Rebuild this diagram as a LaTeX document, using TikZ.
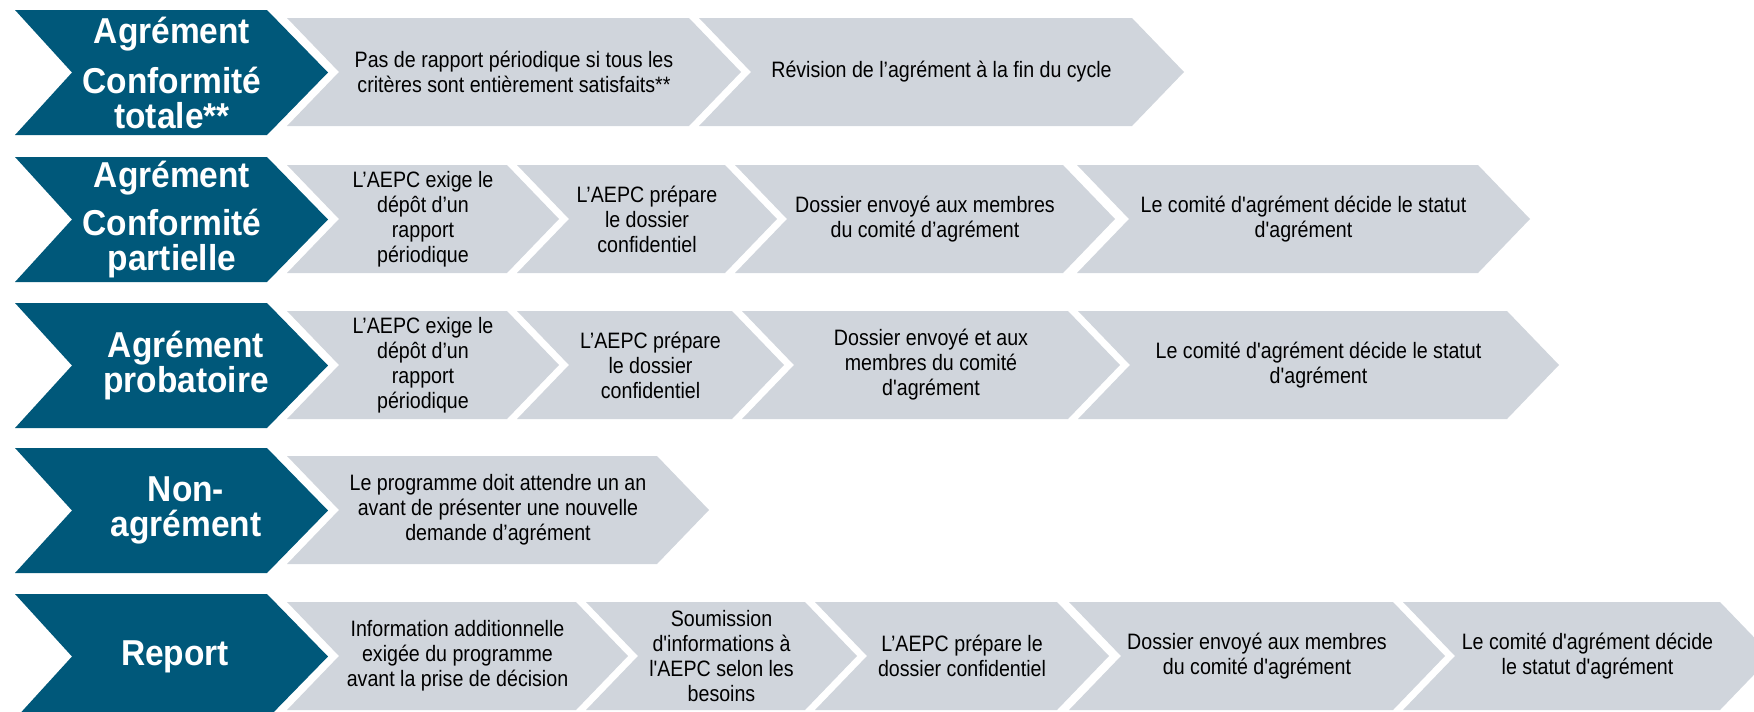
\documentclass[tikz,border=0pt]{standalone}
\usepackage{fontspec}
\setmainfont{Liberation Sans}
\newfontfamily\stepfont{Liberation Sans}[FakeStretch=0.88, Ligatures=TeXOff]
\newfontfamily\headfont{Liberation Sans}[FakeStretch=0.93]
\usepackage{tikz}
\definecolor{aepcblue}{RGB}{0,88,122}
\definecolor{stepgray}{RGB}{208,213,220}
\tikzstyle{headchev}=[fill=aepcblue]
\tikzstyle{stepchev}=[fill=stepgray]
\tikzstyle{headtext}=[text=white, align=center, inner sep=0pt, font=\headfont\bfseries\fontsize{36}{35}\selectfont]
\tikzstyle{steptext}=[text=black, align=center, inner sep=0pt, font=\stepfont\fontsize{22.3}{25}\selectfont]

% blue chevron at the head of a row: [text x], name, top, text
\newcommand{\headbox}[4][172]{%
  \fill[headchev] (15,#3) -- (267,#3) -- (328,{#3+62.5}) -- (267,{#3+125})
    -- (15,{#3+125}) -- (72,{#3+62.5}) -- cycle;
  \node[headtext] (#2) at (#1,{#3+62.5}) {#4};}
% gray chevron: name, left, right, top, text
\newcommand{\stepbox}[5]{%
  \fill[stepchev] (#2,#4) -- (#3,#4) -- ({#3+52},{#4+54}) -- (#3,{#4+108})
    -- (#2,{#4+108}) -- ({#2+52},{#4+54}) -- cycle;
  \node[steptext] (#1) at ({(#2+52+#3)/2},{#4+54}) {#5};}

\begin{document}
\begin{tikzpicture}[x=1pt, y=-1pt]
  \useasboundingbox (0,0) rectangle (1754,712);

  % full compliance
  \headbox{h1}{10}{Agrément\\[15pt]Conformité\\totale**}
  \stepbox{s11}{287}{689}{18}{Pas de rapport périodique si tous les\\critères sont entièrement satisfaits**}
  \stepbox{s12}{699}{1132}{18}{Révision de l’agrément à la fin du cycle}

  % partial compliance
  \headbox{h2}{157}{Agrément\\[13pt]Conformité\\partielle}
  \stepbox{s21}{287}{507}{165}{L’AEPC exige le\\dépôt d’un\\rapport\\périodique}
  \stepbox{s22}{517}{725}{165}{L’AEPC prépare\\le dossier\\confidentiel}
  \stepbox{s23}{735}{1063}{165}{Dossier envoyé aux membres\\du comité d’agrément}
  \stepbox{s24}{1077}{1478}{165}{Le comité d'agrément décide le statut\\d'agrément}

  % probation
  \headbox[186]{h3}{303}{Agrément\\probatoire}
  \stepbox{s31}{287}{507}{311}{L’AEPC exige le\\dépôt d’un\\rapport\\périodique}
  \stepbox{s32}{517}{732}{311}{L’AEPC prépare\\le dossier\\confidentiel}
  \stepbox{s33}{742}{1068}{311}{Dossier envoyé et aux\\membres du comité\\d'agrément}
  \stepbox{s34}{1078}{1507}{311}{Le comité d'agrément décide le statut\\d'agrément}

  % refusal
  \headbox[186]{h4}{448}{Non-\\agrément}
  \stepbox{s41}{287}{657}{456}{Le programme doit attendre un an\\avant de présenter une nouvelle\\demande d’agrément}

  % deferral
  \headbox[175]{h5}{594}{Report}
  \stepbox{s51}{287}{576}{602}{Information additionnelle\\exigée du programme\\avant la prise de décision}
  \stepbox{s52}{586}{805}{602}{Soumission\\d'informations à\\l'AEPC selon les\\besoins}
  \stepbox{s53}{815}{1057}{602}{L’AEPC prépare le\\dossier confidentiel}
  \stepbox{s54}{1069}{1393}{602}{Dossier envoyé aux membres\\du comité d'agrément}
  \stepbox{s55}{1403}{1720}{602}{Le comité d'agrément décide\\le statut d'agrément}
\end{tikzpicture}
\end{document}
